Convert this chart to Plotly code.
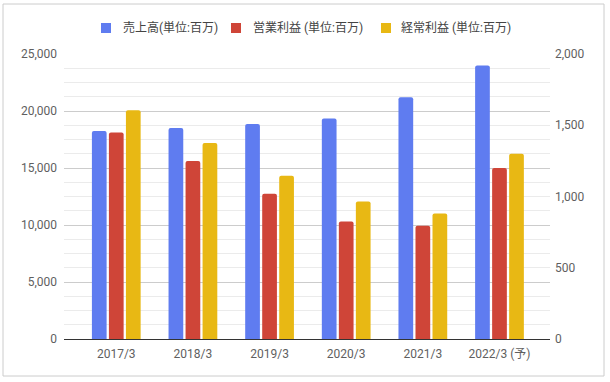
import plotly.graph_objects as go

categories = ["2017/3", "2018/3", "2019/3", "2020/3", "2021/3", "2022/3 (予)"]
sales = [18250, 18500, 18850, 19350, 21200, 24000]
op_profit = [1450, 1250, 1020, 825, 795, 1200]
ord_profit = [1605, 1375, 1145, 965, 880, 1300]

names = ["売上高(単位:百万)", "営業利益 (単位:百万)", "経常利益 (単位:百万)"]
colors = ["#5f7cf0", "#cf4538", "#e8b814"]

W, H = 610, 382
L, R, T, B = 64, 60, 54, 43
pw, ph = W - L - R, H - T - B


def px(x):
    return (x - L) / pw


def py(y):
    return (H - B - y) / ph


bw = 0.192
pitch = 0.222
offs = [-bw / 2 - pitch, -bw / 2, -bw / 2 + pitch]

fig = go.Figure()
series = [(sales, "y"), (op_profit, "y2"), (ord_profit, "y2")]
for i, (vals, ax) in enumerate(series):
    fig.add_trace(go.Bar(
        x=categories, y=vals, name=names[i], yaxis=ax, showlegend=False,
        marker=dict(color=colors[i], cornerradius=2, line=dict(width=0)),
        width=bw, offset=offs[i],
    ))

font_fam = "Roboto, 'Noto Sans CJK JP', sans-serif"
fig.update_layout(
    width=W, height=H,
    margin=dict(l=L, r=R, t=T, b=B, autoexpand=False),
    paper_bgcolor="white", plot_bgcolor="white",
    font=dict(family=font_fam, size=12, color="#5f5f5f"),
    barmode="overlay",
    xaxis=dict(type="category", range=[-0.682, 5.659], showgrid=False,
               showline=True, linecolor="#333", linewidth=1,
               ticks="", tickfont=dict(size=12, color="#5f5f5f"), ticklabelstandoff=4),
    yaxis=dict(range=[0, 25000], dtick=5000, tickformat=",d",
               showgrid=True, gridcolor="#cccccc", gridwidth=1,
               zeroline=False, ticks="", showline=False,
               tickfont=dict(size=12, color="#5f5f5f"), ticklabelstandoff=6,
               minor=dict(dtick=1250, showgrid=True, gridcolor="#ebebeb", gridwidth=1)),
    yaxis2=dict(range=[0, 2000], dtick=500, tickformat=",d", overlaying="y", side="right",
                showgrid=False, zeroline=False, ticks="", showline=False,
                tickfont=dict(size=12, color="#5f5f5f"), ticklabelstandoff=4),
)

# custom legend (pixel positions)
legend_sq_left = [101, 231, 381]
legend_text_left = [121, 251, 399]
legend_y = 28
for i in range(3):
    fig.add_shape(type="rect", xref="paper", yref="paper",
                  x0=px(legend_sq_left[i]), x1=px(legend_sq_left[i] + 10),
                  y0=py(legend_y + 5), y1=py(legend_y - 5),
                  line=dict(width=0), fillcolor=colors[i])
    fig.add_annotation(xref="paper", yref="paper", x=px(legend_text_left[i]), y=py(legend_y),
                       xanchor="left", yanchor="middle", showarrow=False,
                       text=names[i], font=dict(size=12, color="#444"))

# outer chart border
fig.add_shape(type="rect", xref="paper", yref="paper",
              x0=px(3), x1=px(604), y0=py(376), y1=py(4),
              line=dict(color="#cccccc", width=1), fillcolor="rgba(0,0,0,0)", layer="below")

fig.write_html("out.html", config={"displayModeBar": False},
               post_script="document.body.style.margin='0';document.body.style.padding='0';")
